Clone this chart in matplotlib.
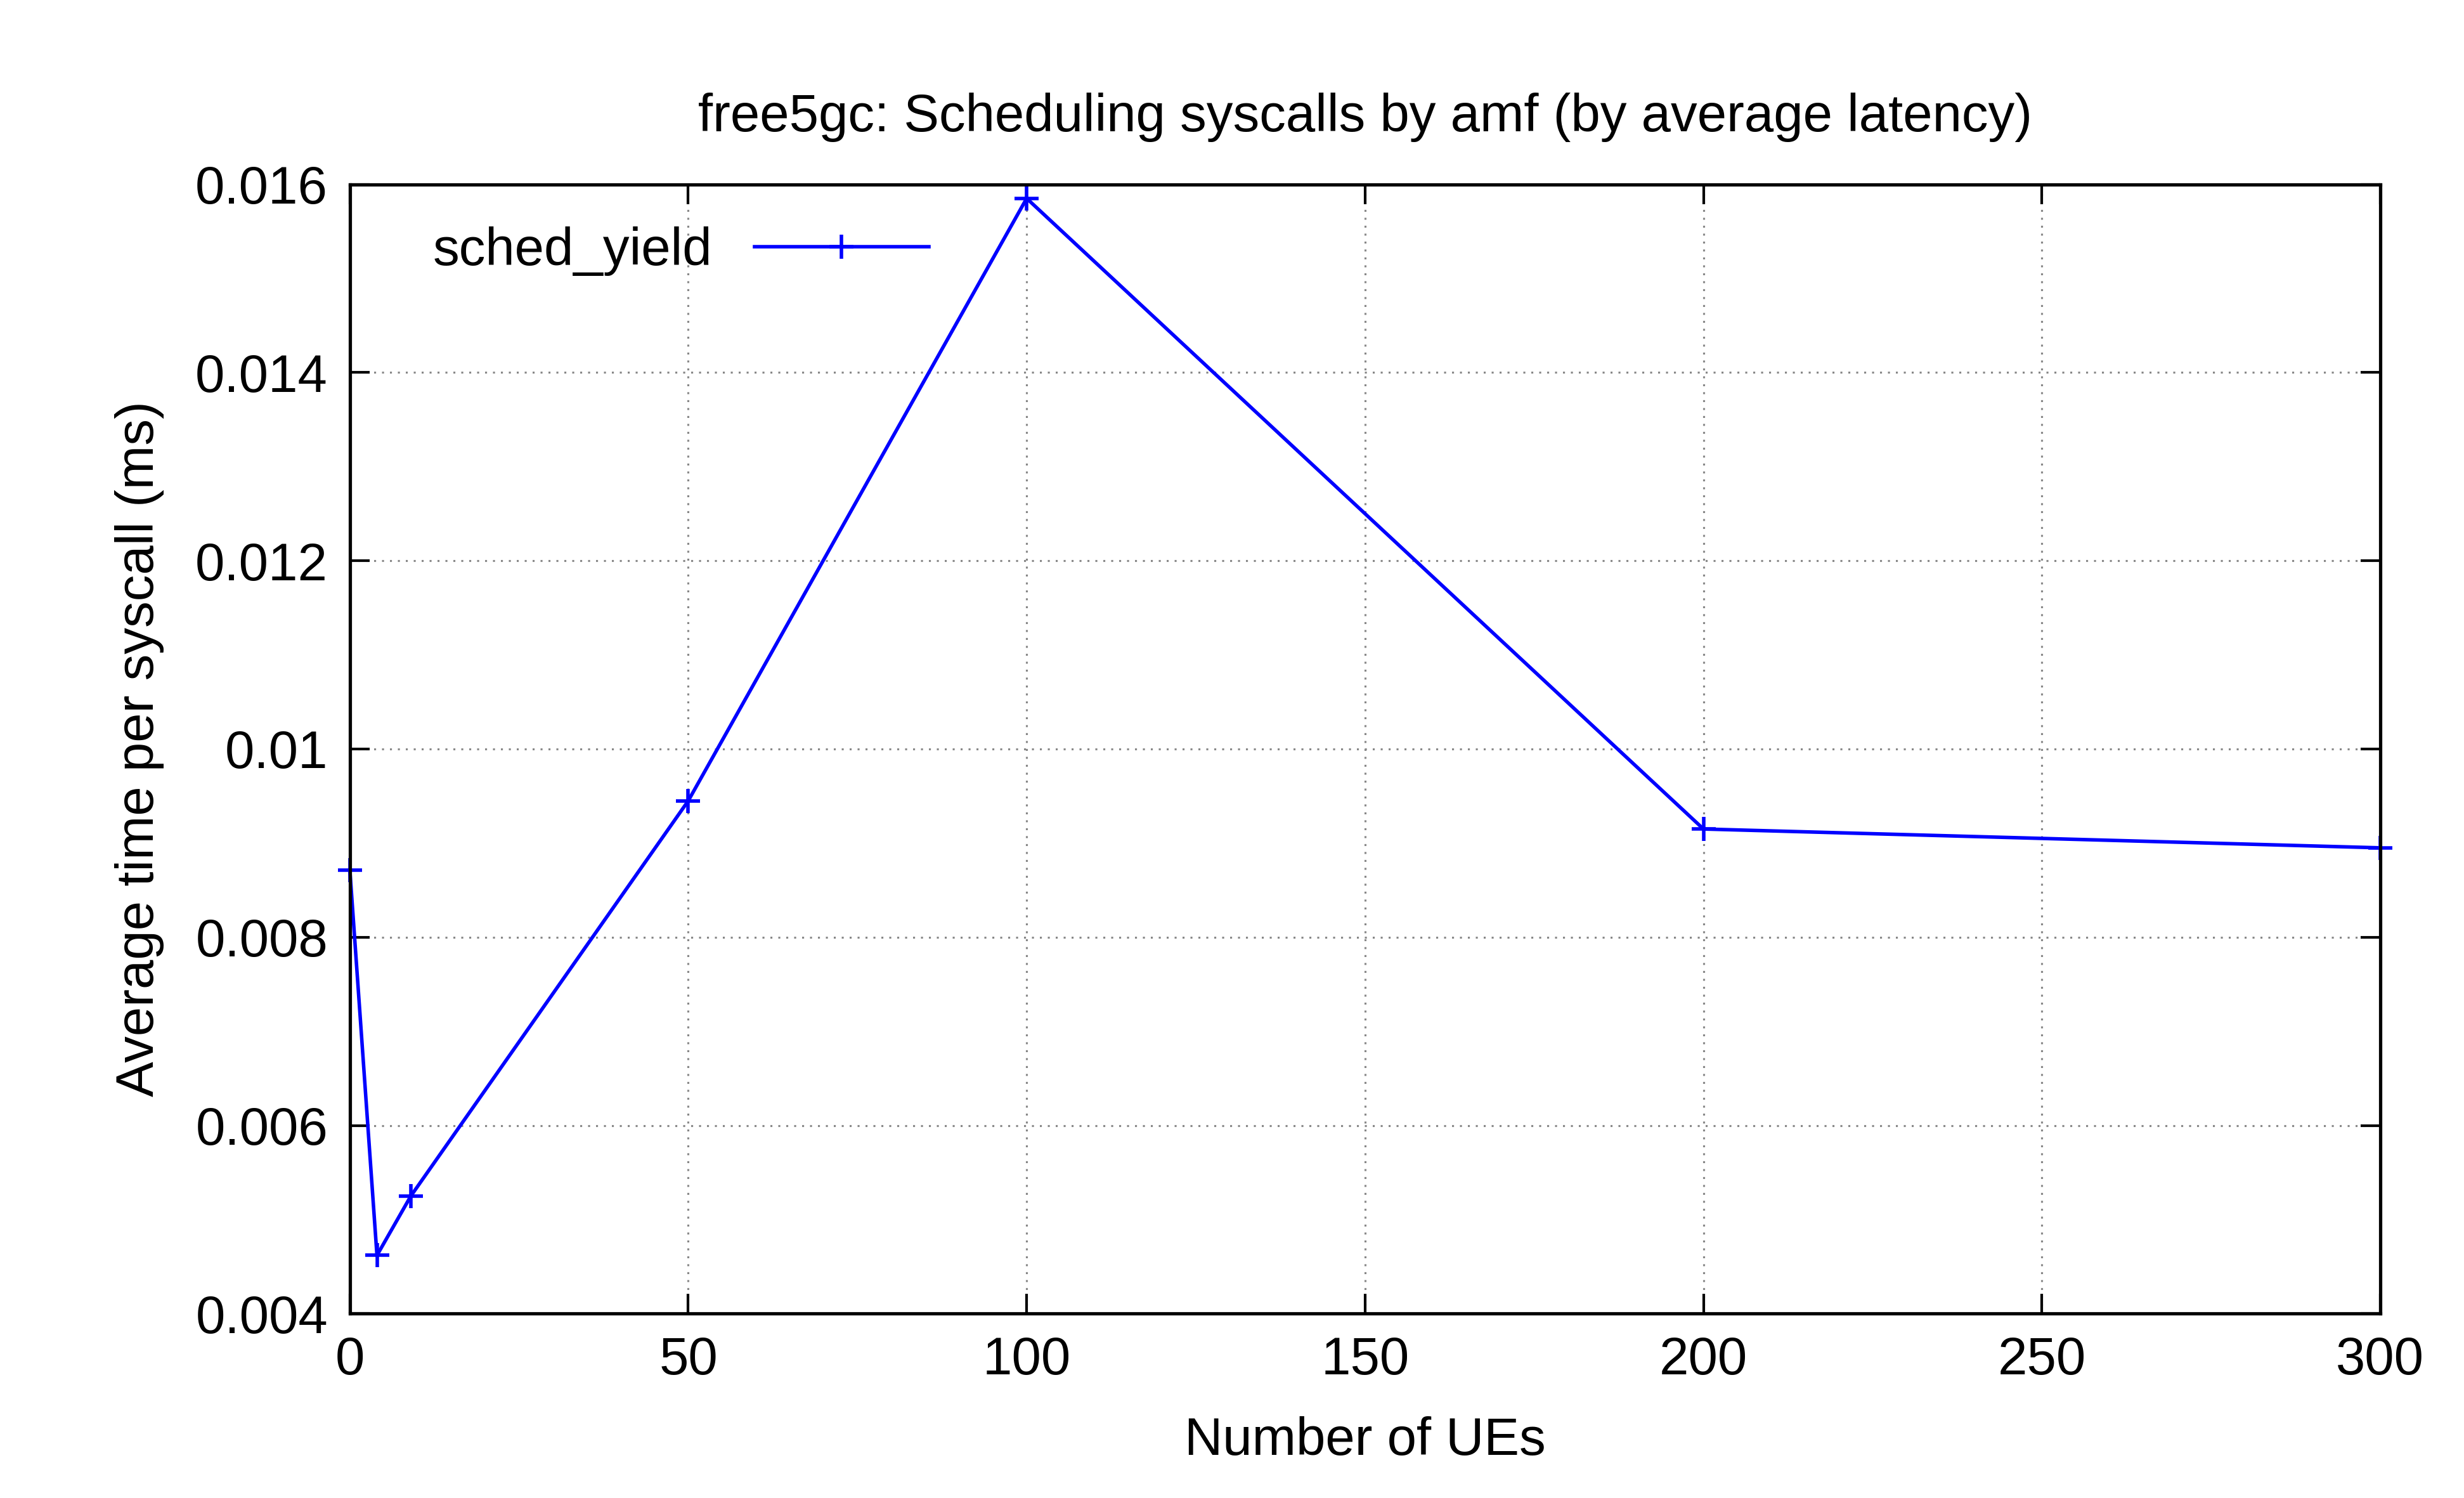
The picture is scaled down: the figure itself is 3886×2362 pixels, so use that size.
import matplotlib
matplotlib.use("Agg")
import matplotlib.pyplot as plt

ues = [0, 4, 9, 50, 100, 200, 300]
sched_yield = [0.00871, 0.00462, 0.00525, 0.00945, 0.01585, 0.00915, 0.00895]
yticks = [0.004, 0.006, 0.008, 0.01, 0.012, 0.014, 0.016]
ytick_labels = ["0.004", "0.006", "0.008", "0.01", "0.012", "0.014", "0.016"]

plt.rcParams['font.family'] = ['Liberation Sans', 'DejaVu Sans']
fig = plt.figure(figsize=(15.544, 9.448), dpi=250)
ax = fig.add_axes([0.142, 0.123, 0.824, 0.754])

ax.plot(ues, sched_yield, color='#0000ff', lw=1.6, marker='+', ms=11, mew=1.6,
        label='sched_yield', clip_on=False)

ax.set_xlim(0, 300)
ax.set_ylim(0.004, 0.016)
ax.set_xticks([0, 50, 100, 150, 200, 250, 300])
ax.set_yticks(yticks)
ax.set_yticklabels(ytick_labels)
ax.grid(True, linestyle=(0, (1, 3)), color='#888888', lw=0.9)
ax.tick_params(direction='in', top=True, right=True, length=9, width=1.2,
               labelsize=24, pad=10)
for s in ax.spines.values():
    s.set_linewidth(1.5)

ax.set_title('free5gc: Scheduling syscalls by amf (by average latency)', fontsize=24, pad=24)
ax.set_xlabel('Number of UEs', fontsize=24, labelpad=14)
ax.set_ylabel('Average time per syscall (ms)', fontsize=24, labelpad=14)

ax.legend(loc='upper left', frameon=False, markerfirst=False, fontsize=24,
          handlelength=3.3, borderaxespad=0.4, bbox_to_anchor=(0.02, 1.0))

fig.savefig('out.png')
